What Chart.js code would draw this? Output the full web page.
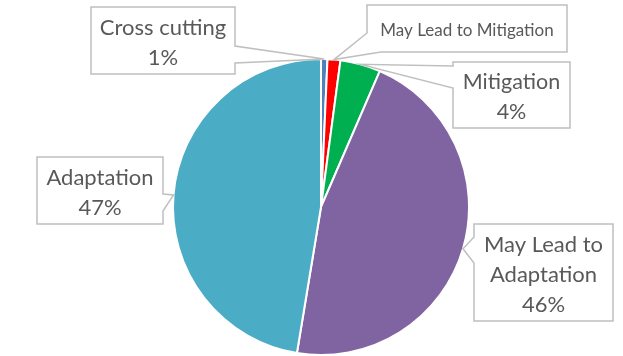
<!DOCTYPE html>
<html>
<head>
<meta charset="utf-8">
<script src="https://cdn.jsdelivr.net/npm/chart.js@4/dist/chart.umd.min.js"></script>
<style>
  html, body { margin: 0; padding: 0; background: #fff; }
  #wrap { width: 623px; height: 356px; }
</style>
</head>
<body>
<div id="wrap"><canvas id="myChart"></canvas></div>
<script>
  const categories = ['Cross cutting', 'May Lead to Mitigation', 'Mitigation', 'May Lead to Adaptation', 'Adaptation'];
  const shares = [0.7, 1.4, 4.4, 46.1, 47.4];
  const sliceColors = ['#4F81BD', '#FF0000', '#00B050', '#8064A2', '#4BACC6'];

  // callout boxes: [x1, y1, x2, y2], two points where the pointer meets the box, text lines
  const callouts = [
    { box: [91, 7, 235, 74], base: [[235, 46], [235, 63]], lines: ['Cross cutting', '%'], size: 22 },
    { box: [367, 5, 567, 52], base: [[381, 52], [367, 33]], lines: ['May Lead to Mitigation'], size: 17 },
    { box: [453, 62, 570, 128], base: [[453, 88], [453, 66]], lines: ['Mitigation', '%'], size: 21.5 },
    { box: [474, 224, 613, 321], base: [[474, 263], [474, 237]], lines: ['May Lead to', 'Adaptation', '%'], size: 22 },
    { box: [37, 157, 163, 224], base: [[163, 194], [163, 211]], lines: ['Adaptation', '%'], size: 22 }
  ];

  function perim(box, p) {
    const [x1, y1, x2, y2] = box, w = x2 - x1, h = y2 - y1;
    if (p[1] === y1) return p[0] - x1;
    if (p[0] === x2) return w + (p[1] - y1);
    if (p[1] === y2) return w + h + (x2 - p[0]);
    return 2 * w + h + (y2 - p[1]);
  }

  const calloutPlugin = {
    id: 'callouts',
    afterDatasetsDraw(chart) {
      const ctx = chart.ctx;
      const meta = chart.getDatasetMeta(0);
      const total = shares.reduce((a, b) => a + b, 0);
      meta.data.forEach((arc, i) => {
        const c = callouts[i];
        const mid = (arc.startAngle + arc.endAngle) / 2;
        const tip = [arc.x + Math.cos(mid) * arc.outerRadius, arc.y + Math.sin(mid) * arc.outerRadius];
        const [x1, y1, x2, y2] = c.box, w = x2 - x1, h = y2 - y1, P = 2 * (w + h);
        const corners = [[x1, y1, 0], [x2, y1, w], [x2, y2, w + h], [x1, y2, 2 * w + h]];
        const [A, B] = c.base;
        const pA = perim(c.box, A), pB = perim(c.box, B);
        const span = ((pA - pB) % P + P) % P;
        const walk = corners
          .map(k => [k[0], k[1], ((k[2] - pB) % P + P) % P])
          .filter(k => k[2] > 0 && k[2] < span)
          .sort((a, b) => a[2] - b[2]);

        ctx.save();
        ctx.beginPath();
        ctx.moveTo(B[0], B[1]);
        walk.forEach(k => ctx.lineTo(k[0], k[1]));
        ctx.lineTo(A[0], A[1]);
        ctx.lineTo(tip[0], tip[1]);
        ctx.closePath();
        ctx.fillStyle = '#ffffff';
        ctx.fill();
        ctx.lineWidth = 1.5;
        ctx.strokeStyle = '#BFBFBF';
        ctx.stroke();

        const pct = Math.round(shares[i] / total * 100) + '%';
        const text = c.lines.map(s => (s === '%' ? pct : s));
        ctx.fillStyle = '#595959';
        ctx.font = c.size + 'px Lato, "Liberation Sans", sans-serif';
        ctx.textAlign = 'center';
        ctx.textBaseline = 'middle';
        const lh = 30;
        const cy = (y1 + y2) / 2 + 2 - (text.length - 1) * lh / 2;
        text.forEach((s, j) => ctx.fillText(s, (x1 + x2) / 2, cy + j * lh));
        ctx.restore();
      });
    }
  };

  const chartCtx = document.getElementById('myChart').getContext('2d');

  const myChart = new Chart(chartCtx, {
    type: 'pie',
    data: {
      labels: categories,
      datasets: [{
        data: shares,
        backgroundColor: sliceColors,
        borderColor: '#ffffff',
        borderWidth: 2,
        hoverOffset: 0
      }]
    },
    options: {
      responsive: true,
      maintainAspectRatio: false,
      animation: false,
      layout: { padding: { top: 58, bottom: 0, left: 172, right: 153 } },
      plugins: {
        legend: { display: false },
        tooltip: { enabled: false }
      }
    },
    plugins: [calloutPlugin]
  });
</script>
</body>
</html>
